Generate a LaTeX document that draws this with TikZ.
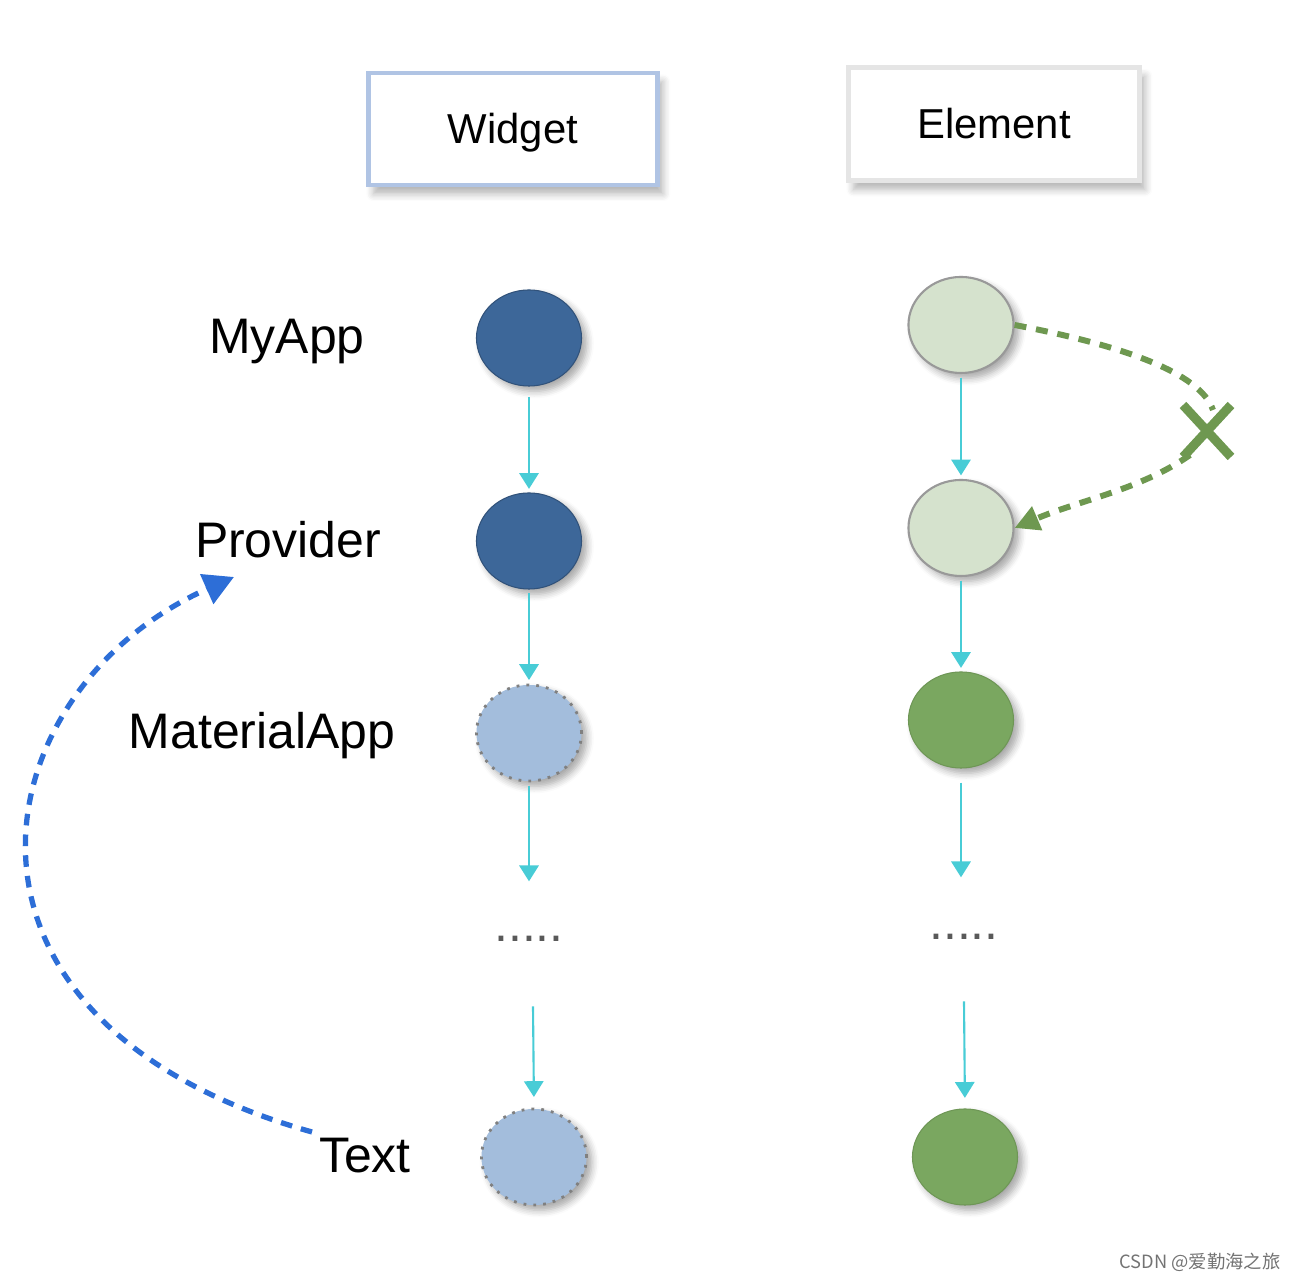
\documentclass[tikz,border=0pt]{standalone}
\usepackage{fontspec}
\setmainfont{Liberation Sans}
\newfontfamily\cjk{Noto Sans CJK SC}
\usetikzlibrary{arrows.meta,shapes.geometric,shadows.blur}
\definecolor{darkblue}{RGB}{61,103,153}
\definecolor{lightblue}{RGB}{163,189,220}
\definecolor{palegreen}{RGB}{213,226,205}
\definecolor{midgreen}{RGB}{122,167,96}
\definecolor{linkgreen}{RGB}{110,152,80}
\definecolor{cyanarrow}{RGB}{72,204,214}
\definecolor{dashblue}{RGB}{45,110,215}
\definecolor{widgetborder}{RGB}{176,196,228}
\tikzset{
  headbox/.style={draw, line width=1.3pt, fill=white, minimum width=2.89cm, minimum height=1.12cm,
    font=\fontsize{11.9pt}{14pt}\selectfont, text height=0.3cm, text depth=0cm,
    blur shadow={shadow blur steps=6, shadow xshift=1.5pt, shadow yshift=-2.5pt, shadow opacity=30}},
  blob/.style={ellipse, minimum width=1.05cm, minimum height=0.96cm, inner sep=0pt,
    blur shadow={shadow blur steps=5, shadow xshift=1.5pt, shadow yshift=-1.5pt, shadow opacity=35, shadow blur radius=2pt}},
  darkblob/.style={blob, fill=darkblue, draw=darkblue!80!black, line width=0.3pt},
  lightblob/.style={blob, fill=lightblue, draw=gray, dotted, line width=0.8pt},
  paleblob/.style={blob, fill=palegreen, draw=gray!80, line width=0.6pt},
  greenblob/.style={blob, fill=midgreen, draw=midgreen!90!black, line width=0.3pt},
  lbl/.style={anchor=base, font=\fontsize{14.2pt}{17pt}\selectfont, inner sep=0pt},
  dots/.style={anchor=base, font=\fontsize{14.2pt}{17pt}\selectfont, text=black!65, inner sep=0pt},
  flow/.style={draw=cyanarrow, line width=0.6pt, -{Triangle[width=5.5pt,length=4.5pt]}},
}
\begin{document}
\begin{tikzpicture}[x=0.01cm,y=-0.01cm]
\useasboundingbox (0,0) rectangle (1296,1280);
% header boxes
\node[headbox, draw=widgetborder] (widget) at (513,129) {Widget};
\node[headbox, draw=black!10, minimum width=2.91cm, minimum height=1.13cm] (element) at (994,124) {Element};
% labels
\node[lbl] (lmyapp) at (287,354) {MyApp};
\node[lbl] (lprov) at (288,558) {Provider};
\node[lbl] (lmat) at (262,749) {MaterialApp};
\node[lbl] (ltext) at (365,1173) {Text};
% widget column
\node[darkblob] (w1) at (529,338) {};
\node[darkblob] (w2) at (529,541) {};
\node[lightblob] (w3) at (529,733) {};
\node[dots] (wd) at (529,942) {.....};
\node[lightblob] (w4) at (534,1157) {};
% element column
\node[paleblob] (e1) at (961,325) {};
\node[paleblob] (e2) at (961,528) {};
\node[greenblob] (e3) at (961,720) {};
\node[dots] (ed) at (964,940) {.....};
\node[greenblob] (e4) at (965,1157) {};
% cyan arrows
\draw[flow, shorten <=3pt, shorten >=1pt] (w1.south) -- (w2.north);
\draw[flow, shorten <=1pt, shorten >=1pt] (w2.south) -- (w3.north);
\draw[flow, shorten <=1pt] (w3.south) -- ([shift={(0,-58)}]wd.center);
\draw[flow, shorten >=3pt] ([shift={(4,67)}]wd.center) -- (w4.north);
\draw[flow, shorten <=1pt, shorten >=1pt] (e1.south) -- (e2.north);
\draw[flow, shorten <=1pt, shorten >=1pt] (e2.south) -- (e3.north);
\draw[flow, shorten <=4pt] (e3.south) -- ([shift={(-3,-60)}]ed.center);
\draw[flow, shorten >=3pt] ([shift={(0,64)}]ed.center) -- (e4.north);
% green rebuild path with cross
\coordinate (xm) at (1207,431);
\draw[linkgreen, line width=1.7pt, dash pattern=on 3.4pt off 2.8pt]
  (e1.east) .. controls (1120,345) and (1200,372) .. (1213,410);
\draw[linkgreen, line width=1.7pt, dash pattern=on 3.4pt off 2.8pt,
  -{Triangle[width=7pt,length=7pt]}]
  (1190,455) .. controls (1140,490) and (1080,500) .. (e2.east);
\draw[linkgreen, line width=2.6pt] ([shift={(-24,-26)}]xm) -- ([shift={(24,26)}]xm);
\draw[linkgreen, line width=2.6pt] ([shift={(24,-26)}]xm) -- ([shift={(-24,26)}]xm);
% blue dashed curve
\coordinate (bstart) at (312,1132);
\coordinate (btip) at (234,577);
\draw[dashblue, line width=1.5pt, dash pattern=on 3.3pt off 2.6pt,
  -{Triangle[width=9pt,length=8.5pt]}]
  (bstart) .. controls (-85,1020) and (-20,690) .. (btip);
% watermark
\node[anchor=east, inner sep=0pt, text=black!55, font=\cjk\fontsize{5.2pt}{6pt}\selectfont] (wm) at (1281,1262) {CSDN @爱勤海之旅};
\end{tikzpicture}
\end{document}
